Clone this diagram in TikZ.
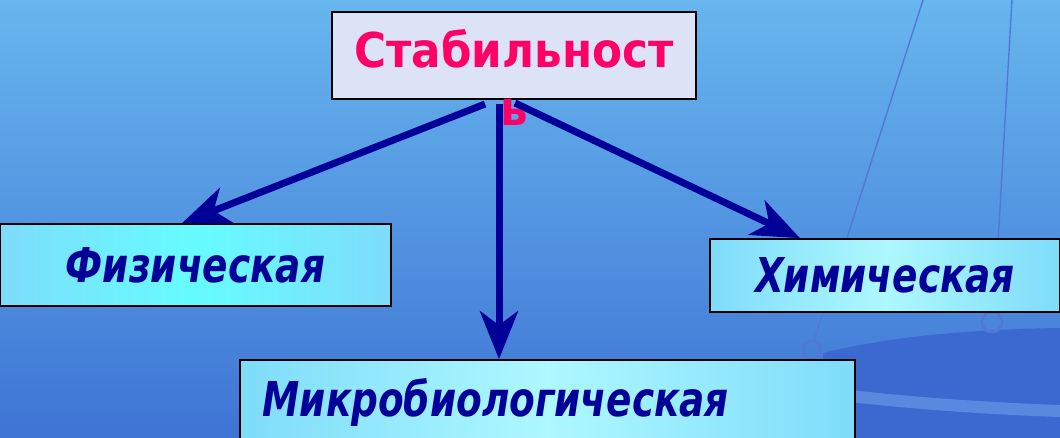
\documentclass[tikz,border=0pt]{standalone}
\usepackage{fontspec}
\usetikzlibrary{arrows.meta,calc}
\newfontfamily\dvs[FakeStretch=0.78]{DejaVu Sans}
\newfontfamily\dvt[FakeStretch=0.91]{DejaVu Sans}
\definecolor{navy}{HTML}{000099}
\definecolor{titlered}{HTML}{FF0066}
\definecolor{bgtop}{HTML}{67B6EE}
\definecolor{bgmid}{HTML}{4F8CE0}
\definecolor{bgbot}{HTML}{3E74D4}
\definecolor{decol}{HTML}{5577D4}
\definecolor{dishc}{HTML}{3C69D0}
\definecolor{dishband}{HTML}{5A88DE}
\definecolor{cyanA}{HTML}{7EDCFA}
\definecolor{cyanB}{HTML}{AEF8FF}
\definecolor{cyanC}{HTML}{66FCFF}
\definecolor{lav}{HTML}{DDE3F6}
\tikzset{
  box/.style={draw=black, line width=1.6pt, inner sep=0pt, font=\dvs\bfseries\itshape\fontsize{48}{58}\selectfont, text=navy},
  arr/.style={draw=navy, line width=7pt, -{Stealth[length=48pt,width=38pt,inset=14pt]}},
  deco/.style={draw=decol, line width=1.4pt},
}
\begin{document}
\begin{tikzpicture}[x=1pt,y=-1pt]
\useasboundingbox (0,0) rectangle (1060,438);
\clip (0,0) rectangle (1060,438);
\shade[top color=bgtop, middle color=bgmid, bottom color=bgbot] (0,0) rectangle (1060,438);
% background decoration (balance)
\fill[dishc] (823,353) .. controls (900,334) and (990,329) .. (1060,328) -- (1060,438) -- (823,438) -- cycle;
\draw[dishband, line width=12pt] (850,396) .. controls (920,404) and (1000,409) .. (1060,411);
\draw[deco] (923,0) -- (814,341);
\draw[deco] (1012,0) -- (994,312);
\draw[deco, line width=2.6pt] (812,350) circle (9);
\draw[deco, line width=2.6pt] (992,322) circle (10);
% boxes
\node[box, minimum width=391pt, minimum height=82pt, left color=cyanA, right color=cyanA, middle color=cyanC] (f) at (195.5,265) {Физическая};
\node[box, minimum width=350pt, minimum height=73pt, left color=cyanA, right color=cyanA, middle color=cyanB] (h) at (885,275.5) {Химическая};
\node[box, minimum width=615pt, minimum height=85pt, left color=cyanA, right color=cyanA, middle color=cyanB, text width=570pt, align=left] (m) at (547.5,402.5) {Микробиологическая};
\node[draw=black, line width=2pt, fill=lav, minimum width=364pt, minimum height=87pt] (t) at (514,55.5) {};
\node[inner sep=0pt, anchor=north, text=titlered, align=center, font=\dvt\bfseries\fontsize{48}{58}\selectfont] (tt) at (514,29) {Стабильност\\ь};
% arrows
\draw[arr] ([xshift=-29pt,yshift=-4pt]t.south) -- ([xshift=-13.5pt]f.north);
\draw[arr] ([xshift=-15pt,yshift=-4pt]t.south) -- ([xshift=-48.5pt]m.north);
\draw[arr] ([xshift=1pt,yshift=-3pt]t.south) -- ([xshift=-85pt]h.north);
\end{tikzpicture}
\end{document}
